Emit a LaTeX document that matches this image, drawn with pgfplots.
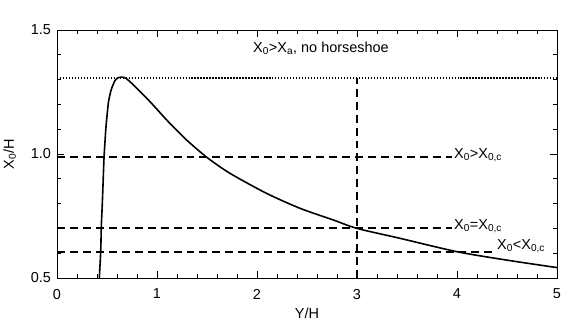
\documentclass[border=0pt]{standalone}
\usepackage{fontspec}
\setmainfont{Liberation Sans}
\usepackage{pgfplots}
\pgfplotsset{compat=1.18}
\begin{document}
\fontsize{14.5}{17}\selectfont
\begin{tikzpicture}
\begin{axis}[
  scale only axis,
  width=500bp, height=248bp,
  xmin=0, xmax=5, ymin=0.5, ymax=1.5,
  xtick={0,1,2,3,4,5},
  ytick={0.5,1.0,1.5},
  yticklabels={0.5,1.0,1.5},
  minor x tick num=4,
  minor y tick num=4,
  tick align=inside,
  major tick length=7bp,
  minor tick length=4bp,
  every tick/.style={black, line width=0.8pt},
  axis line style={line width=0.8pt},
  /pgf/number format/assume math mode=true,
  tick label style={font=\fontsize{14.5}{17}\selectfont},
  label style={font=\fontsize{14.5}{17}\selectfont},
  xticklabel style={yshift=-6bp},
  yticklabel style={xshift=-1bp},
  xlabel={Y/H},
  ylabel={X\textsubscript{0}/H},
  xlabel style={yshift=1bp},
  ylabel style={yshift=5bp},
  clip=true,
]
% curve
\addplot[black, line width=1.6pt, smooth, tension=0.45] coordinates {
  (0.423,0.50) (0.437,0.606) (0.443,0.707) (0.450,0.77) (0.457,0.842)
  (0.470,0.983) (0.480,1.05) (0.490,1.11) (0.513,1.204) (0.530,1.240)
  (0.547,1.265) (0.580,1.296) (0.610,1.307) (0.650,1.310) (0.690,1.305)
  (0.750,1.284) (0.797,1.265) (0.930,1.211) (1.097,1.137) (1.200,1.095)
  (1.297,1.056) (1.497,0.987) (1.730,0.922) (2.097,0.841) (2.430,0.781)
  (2.763,0.734) (3.000,0.700) (3.430,0.660) (4.000,0.606) (4.500,0.572)
  (5.000,0.542)
};
% reference lines
\addplot[black, line width=1.3pt, dash pattern=on 1.3pt off 1.7pt] coordinates {(0,1.307) (5,1.307)};
\addplot[black, line width=1.8pt, dash pattern=on 8pt off 5pt] coordinates {(3,0.5) (3,1.307)};
\addplot[black, line width=1.8pt, dash pattern=on 8pt off 5pt] coordinates {(0,0.988) (3.95,0.988)};
\addplot[black, line width=1.8pt, dash pattern=on 8pt off 5pt] coordinates {(0,0.702) (3.95,0.702)};
\addplot[black, line width=1.8pt, dash pattern=on 8pt off 5pt] coordinates {(0,0.606) (4.38,0.606)};
\node[anchor=west, inner sep=0pt] at (axis cs:1.96,1.427) {X\textsubscript{0}>X\textsubscript{a}, no horseshoe};
\node[anchor=west, inner sep=0pt] at (axis cs:3.97,0.995) {X\textsubscript{0}>X\textsubscript{0,c}};
\node[anchor=west, inner sep=0pt] at (axis cs:3.97,0.708) {X\textsubscript{0}=X\textsubscript{0,c}};
\node[anchor=west, inner sep=0pt] at (axis cs:4.40,0.630) {X\textsubscript{0}<X\textsubscript{0,c}};
\end{axis}
\pgfresetboundingbox
\path[use as bounding box] (current axis.south west) ++(-57bp,-46bp) rectangle ([xshift=19bp,yshift=30bp]current axis.north east);
\end{tikzpicture}
\end{document}
